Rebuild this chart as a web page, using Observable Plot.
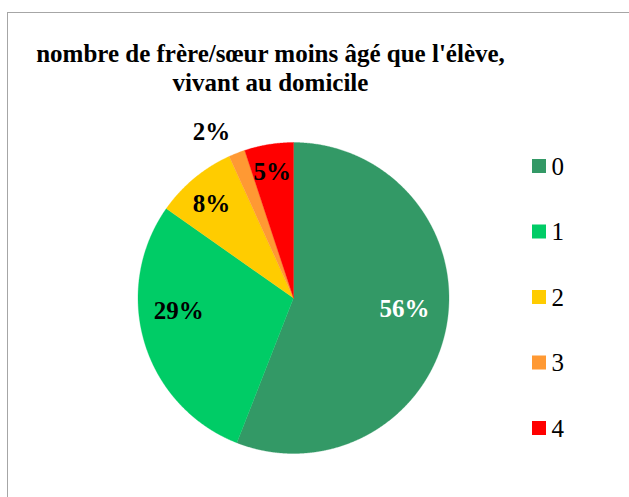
<!DOCTYPE html>
<html>
<head>
<meta charset="utf-8">
<script src="https://cdn.jsdelivr.net/npm/d3@7"></script>
<script src="https://cdn.jsdelivr.net/npm/@observablehq/plot@0.6"></script>
<style>
  html, body { margin: 0; padding: 0; background: #fff; }
  #wrap { position: relative; width: 629px; height: 497px; overflow: hidden; }
  #frame { position: absolute; left: 7px; top: 12px; width: 700px; height: 600px;
           border: 1.5px solid #a6a6a6; box-sizing: border-box; }
  #chart { position: absolute; left: 0; top: 0; }
</style>
</head>
<body>
<div id="wrap"><div id="frame"></div><div id="chart"></div></div>
<script>
// ---- data ----
const title = "nombre de frère/sœur moins âgé que l'élève,\nvivant au domicile";
const categories = ["0", "1", "2", "3", "4"];
const counts = [33, 17, 5, 1, 3];
const colors = ["#339966", "#00CC66", "#FFCC00", "#FF9933", "#FF0000"];

// ---- layout ----
const W = 629, H = 497;
const cx = 293, cy = 297.5, R = 155.5;
const labelRadius = [0.718, 0.742, 0.80, 1.188, 0.819];
const labelAngleShift = [-4.8, 10.3, -1.5, -5.0, -0.4]; // degrees
const labelFill = ["white", "black", "black", "black", "black"];
const legendX = 532, legendTop = 166, legendStep = 65.5, legendBox = 14;

const total = d3.sum(counts);
const arcs = d3.pie().sort(null).value(d => d)(counts);

const slicePts = [];
arcs.forEach((a, i) => {
  slicePts.push({key: categories[i], x: cx, y: cy});
  const n = Math.max(2, Math.ceil((a.endAngle - a.startAngle) / 0.005));
  for (let k = 0; k <= n; k++) {
    const t = a.startAngle + (a.endAngle - a.startAngle) * k / n;
    slicePts.push({key: categories[i], x: cx + R * Math.sin(t), y: cy - R * Math.cos(t)});
  }
  slicePts.push({key: categories[i], x: cx, y: cy});
});

const labels = arcs.map((a, i) => {
  const m = (a.startAngle + a.endAngle) / 2 + labelAngleShift[i] * Math.PI / 180;
  const r = R * labelRadius[i];
  return {
    text: Math.round(counts[i] / total * 100) + "%",
    x: cx + r * Math.sin(m), y: cy - r * Math.cos(m),
    fill: labelFill[i]
  };
});

const legend = categories.map((c, i) => ({key: c, y: legendTop + i * legendStep}));

const font = "'Liberation Serif', 'Times New Roman', serif";

const plot = Plot.plot({
  width: W, height: H,
  margin: 0,
  x: {domain: [0, W], range: [0, W], axis: null},
  y: {domain: [0, H], range: [0, H], axis: null},
  color: {domain: categories, range: colors},
  style: {fontFamily: font, background: "transparent"},
  marks: [
    Plot.line(slicePts, {x: "x", y: "y", z: "key", fill: "key", stroke: "key", strokeWidth: 0.3, curve: "linear"}),
    Plot.text(labels, {x: "x", y: "y", text: "text", fill: d => d.fill, fontSize: 25, fontWeight: "bold", fontFamily: font}),
    Plot.text([title], {x: 270, y: 67, text: d => d, fontSize: 25, fontWeight: "bold", lineHeight: 1.144, fill: "black", fontFamily: font}),
    Plot.rect(legend, {x1: legendX, x2: legendX + legendBox, y1: d => d.y - legendBox / 2, y2: d => d.y + legendBox / 2, fill: "key"}),
    Plot.text(legend, {x: legendX + legendBox + 5, y: "y", text: "key", textAnchor: "start", fontSize: 25, fill: "black", fontFamily: font})
  ]
});
document.getElementById("chart").appendChild(plot);
</script>
</body>
</html>
